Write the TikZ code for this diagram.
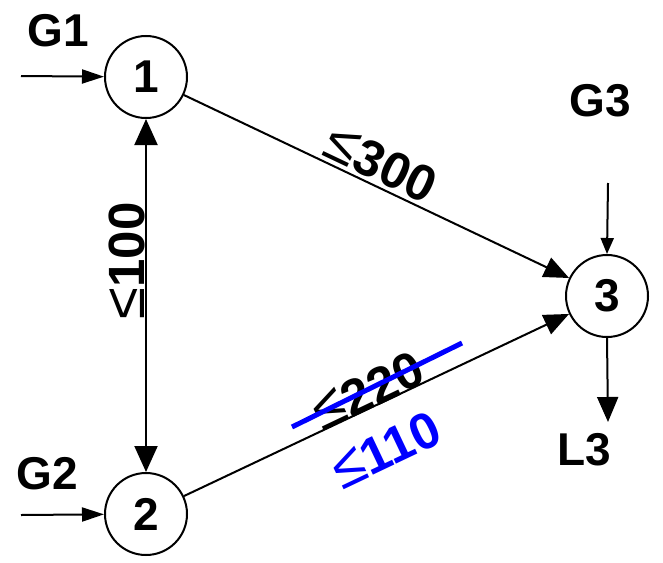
\documentclass[tikz,border=0pt]{standalone}
\usepackage{fontspec}
\setmainfont{Liberation Sans}
\usetikzlibrary{arrows.meta}
\newfontfamily\symfont{Liberation Sans}
\tikzset{
  bus/.style={circle,draw,line width=2pt,minimum size=82pt,inner sep=0pt,font=\fontsize{46}{46}\selectfont\bfseries},
  lbl/.style={inner sep=0pt,font=\fontsize{46}{46}\selectfont\bfseries},
  limlbl/.style={inner sep=0pt,font=\fontsize{51}{51}\selectfont\bfseries},
  line/.style={line width=2pt},
  bighead/.style={-{Triangle[length=25pt,width=21pt]}},
  smallhead/.style={-{Triangle[length=22pt,width=14pt]}},
}
\newcommand{\leqsym}{{\symfont\fontsize{58}{58}\fontseries{m}\selectfont ≤}}
\begin{document}
\begin{tikzpicture}[x=1pt,y=-1pt]
\useasboundingbox (0,0) rectangle (663,562);
\node[bus] (n1) at (146,77) {1};
\node[bus] (n2) at (146,514) {2};
\node[bus] (n3) at (607,296) {3};
\node[lbl] (g1) at (58,31) {G1};
\node[lbl] (g2) at (47,474) {G2};
\node[lbl] (g3) at (600,101) {G3};
\node[lbl] (l3) at (584,450) {L3};
\coordinate (g1s) at (21,76);
\coordinate (g2s) at (21,515);
\coordinate (g3s) at (608,183);
\coordinate (l3e) at (608,422);
\draw[line,smallhead] (g1s) -- (n1);
\draw[line,smallhead] (g2s) -- (n2);
\draw[line,-{Triangle[length=16pt,width=13pt]}] (g3s) -- (n3.north);
\draw[line,bighead] (n3.south) -- (l3e);
\draw[line,{Triangle[length=26pt,width=23pt]}-{Triangle[length=26pt,width=23pt]}] (n1) -- (n2);
\draw[line,bighead] (n1) -- (n3);
\draw[line,bighead] (n2) -- (n3);
\node[limlbl,rotate=-25.4] (c13) at (381,164) {\leqsym300};
\node[limlbl,rotate=90] (c12) at (127,261) {\leqsym100};
\node[limlbl,rotate=25.4] (c23) at (368,391) {\leqsym220};
\node[limlbl,rotate=25.4,text=blue] (c23n) at (386,450) {\leqsym110};
\coordinate (s1) at (292,427);
\coordinate (s2) at (462,343);
\draw[line width=5pt,blue] (s1) -- (s2);
\end{tikzpicture}
\end{document}
